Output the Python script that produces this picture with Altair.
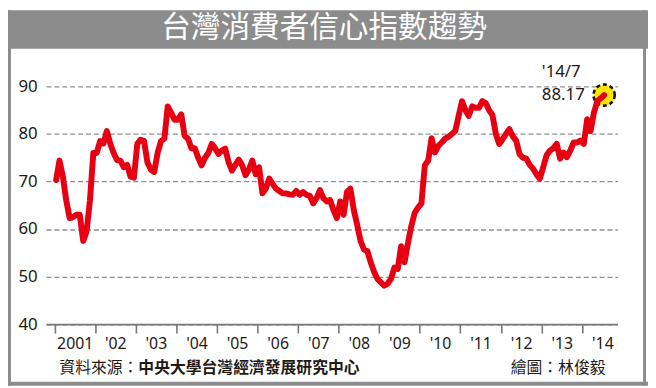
import altair as alt
import pandas as pd

# Monthly index values, Jan 2001 - Jul 2014
v2001 = [70.3, 74.4, 71.0, 66.0, 62.3, 62.5, 63.0, 63.0, 57.5, 59.5, 66.0, 76.0]
v2002 = [76.0, 78.5, 78.0, 80.6, 78.0, 76.0, 74.5, 74.4, 73.0, 73.5, 71.0, 70.8]
v2003 = [77.9, 78.8, 78.5, 74.0, 72.5, 72.0, 76.0, 78.5, 79.0, 85.8, 84.5, 83.0]
v2004 = [83.0, 84.1, 79.6, 79.0, 77.0, 77.0, 75.0, 73.4, 75.0, 76.0, 77.9, 77.0]
v2005 = [75.8, 76.5, 76.9, 74.0, 72.3, 73.5, 74.6, 73.4, 71.3, 72.5, 74.4, 71.5]
v2006 = [73.0, 67.5, 68.5, 70.6, 69.5, 68.5, 68.0, 67.5, 67.5, 67.3, 67.2, 68.0]
v2007 = [67.2, 67.8, 67.2, 67.0, 65.4, 66.5, 68.2, 66.5, 65.8, 66.1, 64.0, 62.3]
v2008 = [65.8, 63.0, 67.8, 68.5, 64.0, 60.9, 57.5, 55.7, 55.4, 53.0, 51.0, 49.5]
v2009 = [48.8, 48.1, 48.5, 49.5, 51.9, 51.6, 56.4, 53.0, 57.0, 60.6, 63.4, 64.5]
v2010 = [65.4, 73.4, 74.4, 79.1, 76.1, 77.5, 78.2, 79.0, 79.4, 80.0, 80.6, 83.8]
v2011 = [86.9, 85.0, 83.8, 85.8, 85.5, 85.5, 86.9, 86.5, 85.0, 84.0, 80.0, 77.9]
v2012 = [78.9, 80.0, 81.0, 79.5, 78.6, 75.8, 75.0, 74.8, 73.5, 72.7, 71.5, 70.6]
v2013 = [73.0, 75.5, 76.5, 77.0, 77.9, 74.8, 76.1, 75.1, 76.5, 78.2, 78.2, 78.6]
v2014 = [77.9, 83.1, 80.6, 84.5, 86.9, 87.5, 88.17]

years = list(range(2001, 2015))
series = [v2001, v2002, v2003, v2004, v2005, v2006, v2007, v2008, v2009,
          v2010, v2011, v2012, v2013, v2014]
tick_years = years
last_label = "'14/7"

rows = []
for y, vals in zip(years, series):
    for m, v in enumerate(vals):
        rows.append({"t": y + (m + 0.5) / 12, "v": v})
df = pd.DataFrame(rows)
last = df.tail(1).assign(lab=last_label, val=f"{v2014[-1]:.2f}")

W, H = 578.5, 276.8
RED = "#e60012"
GRAY = "#8c8c8c"
INK = "#231815"
CJK = "Noto Sans CJK TC"

xs = alt.Scale(domain=[2000.793, 2014.869], nice=False, zero=False)
ys = alt.Scale(domain=[40, 97.5], nice=False, zero=False)

one = pd.DataFrame({"a": [0]})

def rect(x, x2, y, y2):
    return alt.Chart(one).mark_rect(color=GRAY).encode(
        x=alt.value(x), x2=alt.value(x2), y=alt.value(y), y2=alt.value(y2))

def label(txt, x, y, size, color=INK, weight="normal", align="left", font=CJK):
    return alt.Chart(one).mark_text(
        text=txt, align=align, baseline="middle", fontSize=size,
        color=color, fontWeight=weight, font=font
    ).encode(x=alt.value(x), y=alt.value(y))

title_bar = rect(-38.5, 609.5, -40.9, -1.9)
left_b = rect(-38.5, -35.5, -40.9, 339.1)
right_b = rect(604.5, 607.5, -40.9, 339.1)
bottom_b = rect(-38.5, 609.5, 335.1, 339.1)

title = label("台灣消費者信心指數趨勢", 281.5, -22.6, 30, color="white", align="center")
src1 = label("資料來源：", 13.5, 321.1, 16)
src2 = label("中央大學台灣經濟發展研究中心", 93.5, 321.1, 16, weight="bold")
credit = label("繪圖：林俊毅", 566.5, 321.1, 16, align="right")

base = alt.Chart(df).encode(
    x=alt.X("t:Q", scale=xs, axis=alt.Axis(
        values=tick_years, title=None, grid=False,
        labelExpr="datum.value == 2001 ? '2001' : \"'\" + substring(toString(datum.value), 2, 4)",
        labelOffset=20.5, labelFontSize=16, labelColor=INK, labelFont="Noto Sans",
        labelPadding=3, labelOverlap=False, labelFlush=False, labelBound=False,
        domainColor="#777777", domainWidth=1.6, tickColor="#777777",
        tickWidth=1.6, tickSize=9)),
    y=alt.Y("v:Q", scale=ys, axis=alt.Axis(
        values=[40, 50, 60, 70, 80, 90], title=None, domain=False, ticks=False,
        labelPadding=9, labelFontSize=17, labelColor=INK, labelFont="Noto Sans",
        gridDash=[5, 3], gridColor="#8f8f8f", gridWidth=1.3)),
)

circle = alt.Chart(last).mark_circle(
    size=460, color="#ffe600", opacity=1, stroke="#111111",
    strokeWidth=2.6, strokeDash=[4, 3]
).encode(x=alt.X("t:Q", scale=xs), y=alt.Y("v:Q", scale=ys))

line = base.mark_line(color=RED, strokeWidth=6, strokeCap="round", strokeJoin="round")

ann1 = alt.Chart(last).mark_text(
    align="left", baseline="middle", dx=-63, dy=-23, fontSize=17,
    font="Noto Sans", color=INK
).encode(x=alt.X("t:Q", scale=xs), y=alt.Y("v:Q", scale=ys), text="lab:N")
ann2 = alt.Chart(last).mark_text(
    align="left", baseline="middle", dx=-63, dy=0, fontSize=17,
    font="Noto Sans", color=INK
).encode(x=alt.X("t:Q", scale=xs), y=alt.Y("v:Q", scale=ys), text="val:N")

chart = alt.layer(
    title_bar, left_b, right_b, bottom_b, title, src1, src2, credit,
    circle, line, ann1, ann2
).properties(
    width=W, height=H,
    autosize=alt.AutoSizeParams(type="none"),
    padding={"left": 38.5, "top": 40.9, "right": 31, "bottom": 62.3},
    background="white",
).configure_view(stroke=None)

chart.save("out.html", embed_options={"renderer": "svg", "actions": False})
